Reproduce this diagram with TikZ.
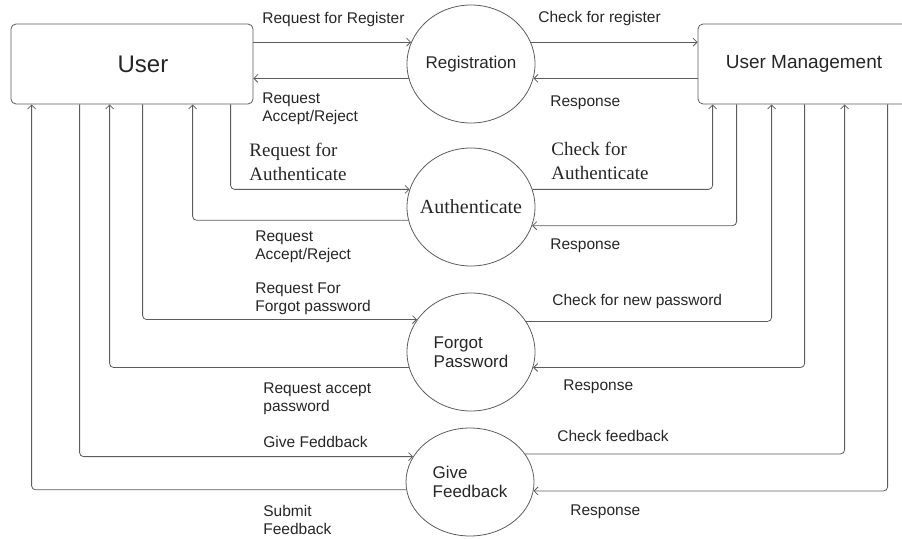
\documentclass[tikz,border=0pt]{standalone}
\usepackage{fontspec}
\setmainfont{Liberation Sans}
\newfontfamily\timesfont{Liberation Serif}
\usetikzlibrary{shapes.geometric,arrows.meta}
\definecolor{flowgrey}{HTML}{5C5C5C}
\definecolor{inkgrey}{HTML}{262626}
\begin{document}
\begin{tikzpicture}[
    x=1pt, y=-1pt,
    line width=0.8pt,
    text=inkgrey,
    % external entities: plain rounded boxes
    entity/.style={
        rectangle,
        rounded corners=5pt,
        draw=flowgrey,
        fill=white,
        minimum height=80pt,
        },
    % processes are drawn as ellipses
    process/.style={
        ellipse,
        draw=flowgrey,
        minimum width=128pt,
        minimum height=118pt,
        inner xsep=-22pt,
        inner ysep=0pt,
        align=left,
        font=\fontsize{17}{19}\selectfont,
        },
    flow/.style={
        draw=flowgrey,
        rounded corners=4pt,
        -{Straight Barb[length=4pt,width=8pt]},
        },
    lbl/.style={anchor=west, inner sep=0pt, align=left, font=\fontsize{15.5}{18}\selectfont},
    seriflbl/.style={anchor=west, inner sep=0pt, align=left, font=\timesfont\fontsize{19}{24}\selectfont},
    ]
    \useasboundingbox (0,0) rectangle (902,538);

    % entities
    \node [entity, minimum width=242pt,
        label={[xshift=11pt, font=\fontsize{24}{28}\selectfont]center:User}] (user) at (132,64) {};
    \node [entity, minimum width=212pt, font=\fontsize{19}{22}\selectfont] (um) at (804,64) {User Management};

    % processes
    \node [process] (reg) at (471,64) {Registration};
    \node [process, font=\timesfont\fontsize{20}{22}\selectfont] (auth) at (471,207) {Authenticate};
    \node [process] (forgot) at (471,352) {Forgot\\Password};
    \node [process, minimum height=108pt] (feedback) at (470,482) {Give\\Feedback};

    % User <-> Registration <-> User Management
    \draw [flow] (user.east |- reg.160) -- (reg.160);
    \draw [flow] (reg.193) -- (user.east |- reg.193);
    \draw [flow] (reg.20) -- (um.west |- reg.20);
    \draw [flow] (um.west |- reg.-13) -- (reg.-13);

    % Authenticate
    \draw [flow] ([xshift=220pt]user.south west) |- (auth.164);
    \draw [flow] (auth.192) -| ([xshift=182pt]user.south west);
    \draw [flow] (auth.16) -| ([xshift=15pt]um.south west);
    \draw [flow] ([xshift=39pt]um.south west) |- (auth.-17);

    % Forgot password
    \draw [flow] ([xshift=132pt]user.south west) |- (forgot.149);
    \draw [flow] (forgot.194) -| ([xshift=99pt]user.south west);
    \draw [flow] (forgot.29) -| ([xshift=74pt]um.south west);
    \draw [flow] ([xshift=107pt]um.south west) |- (forgot.-14);

    % Give feedback
    \draw [flow] ([xshift=69pt]user.south west) |- (feedback.156);
    \draw [flow] (feedback.187) -| ([xshift=21pt]user.south west);
    \draw [flow] (feedback.27) -| ([xshift=147pt]um.south west);
    \draw [flow] ([xshift=190pt]um.south west) |- (feedback.-8);

    % flow labels
    \node [lbl] (l-reqreg) at (262,19) {Request for Register};
    \node [lbl] (l-regacc) at (262,109) {Request\\Accept/Reject};
    \node [lbl] (l-chkreg) at (538,18) {Check for register};
    \node [lbl] (l-regresp) at (550,103) {Response};
    \node [seriflbl] (l-reqauth) at (249,162) {Request for\\Authenticate};
    \node [seriflbl] (l-chkauth) at (551,161) {Check for\\Authenticate};
    \node [lbl] (l-authacc) at (255,247) {Request\\Accept/Reject};
    \node [lbl] (l-authresp) at (550,246) {Response};
    \node [lbl] (l-reqfp) at (255,299) {Request For\\Forgot password};
    \node [lbl] (l-chkfp) at (552,301) {Check for new password};
    \node [lbl] (l-fpacc) at (263,399) {Request accept\\password};
    \node [lbl] (l-fpresp) at (563,387) {Response};
    \node [lbl] (l-givefb) at (263,442) {Give Feddback};
    \node [lbl] (l-chkfb) at (557,436) {Check feedback};
    \node [lbl] (l-subfb) at (263,520) {Submit\\Feedback};
    \node [lbl] (l-fbresp) at (570,512) {Response};

\end{tikzpicture}
\end{document}
